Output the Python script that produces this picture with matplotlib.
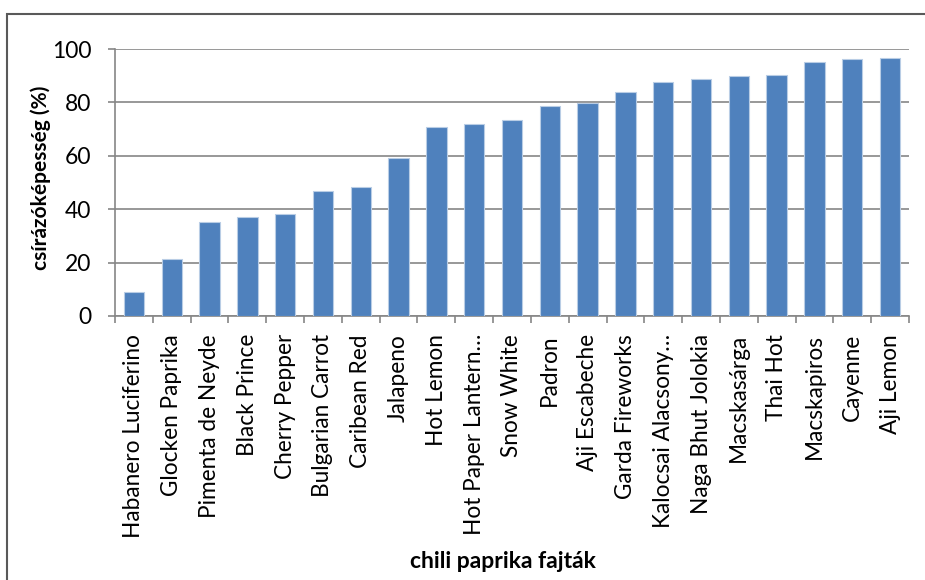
import numpy as np
import matplotlib
matplotlib.use("Agg")
import matplotlib.pyplot as plt
from matplotlib.patches import Rectangle

# Csírázóképesség fajtánként
fajtak = ["Habanero Luciferino", "Glocken Paprika", "Pimenta de Neyde",
          "Black Prince", "Cherry Pepper", "Bulgarian Carrot", "Caribean Red",
          "Jalapeno", "Hot Lemon", "Hot Paper Lantern…", "Snow White",
          "Padron", "Aji Escabeche", "Garda Fireworks", "Kalocsai Alacsony…",
          "Naga Bhut Jolokia", "Macskasárga", "Thai Hot", "Macskapiros",
          "Cayenne", "Aji Lemon"]
csirazas = [9.1, 21.5, 35.2, 37.0, 38.2, 46.9, 48.2, 59.3, 70.9, 71.9, 73.3,
            78.7, 79.9, 83.9, 87.5, 88.6, 89.8, 90.4, 95.3, 96.1, 96.5]
y_ticks = [0, 20, 40, 60, 80, 100]

plt.rcParams['font.family'] = ['Lato', 'DejaVu Sans']

fig = plt.figure(figsize=(9.25, 5.8), dpi=100)
ax = fig.add_axes((115 / 925, 1 - 316 / 580, 794 / 925, 267 / 580))

x = np.arange(len(fajtak))
ax.bar(x, csirazas, width=0.54, color='#4F81BD', edgecolor='#B9CDE5',
       linewidth=0.8, zorder=3)

ax.set_xlim(-0.5, len(fajtak) - 0.5)
ax.set_ylim(0, 100)
ax.set_yticks(y_ticks)
ax.set_yticklabels([str(v) for v in y_ticks], fontsize=16.5)
ax.yaxis.grid(True, color='#868686', linewidth=1.2, zorder=0)
ax.set_axisbelow(True)

# feliratok a kategóriák közepén, osztásjelek a határokon
ax.set_xticks(x)
ax.set_xticklabels(fajtak, rotation=90, fontsize=16.3, va='top')
ax.tick_params(axis='x', which='major', length=0, pad=13)
ax.set_xticks(np.arange(len(fajtak) + 1) - 0.5, minor=True)
ax.tick_params(axis='x', which='minor', length=5, width=1.2, color='#868686')
ax.tick_params(axis='y', length=5, width=1.2, color='#868686', pad=12)

for s in ['top', 'right']:
    ax.spines[s].set_visible(False)
for s in ['left', 'bottom']:
    ax.spines[s].set_color('#868686')
    ax.spines[s].set_linewidth(1.2)

fig.text(41 / 925, 1 - 178 / 580, "csírázóképesség (%)", rotation=90,
         fontsize=15, fontweight='bold', ha='center', va='center')
fig.text(503 / 925, 1 - 562 / 580, "chili paprika fajták",
         fontsize=16.5, fontweight='bold', ha='center', va='center')

# diagram kerete
fig.patches.append(Rectangle((7 / 925, -0.1), 1.2, 1 - 14 / 580 + 0.1,
                             transform=fig.transFigure, fill=False,
                             edgecolor='#595959', linewidth=1.5))

fig.savefig("out.png", dpi=100)
